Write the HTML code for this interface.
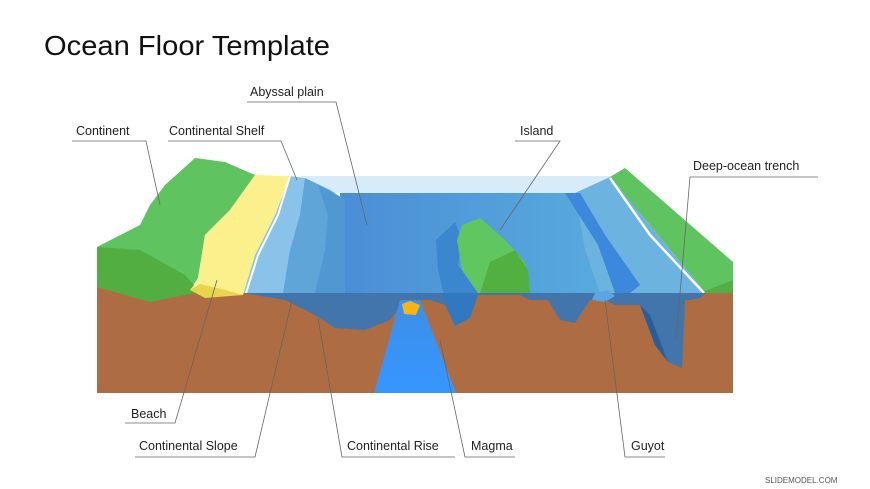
<!DOCTYPE html>
<html><head><meta charset="utf-8"><style>
html,body{margin:0;padding:0;background:#fff}
svg{display:block}
text{font-family:"Liberation Sans",sans-serif;fill:#222}
</style></head><body>
<svg width="870" height="489" viewBox="0 0 870 489" xmlns="http://www.w3.org/2000/svg">
<defs>
<linearGradient id="sea" x1="0" x2="1" y1="0" y2="0"><stop offset="0" stop-color="#4a8ed6"/><stop offset="1" stop-color="#5aaede"/></linearGradient>
<linearGradient id="mag" x1="0" x2="0" y1="0" y2="1"><stop offset="0" stop-color="#3d8fe6"/><stop offset="1" stop-color="#3696ff"/></linearGradient>
</defs>
<text x="44" y="55" font-size="28" textLength="286" lengthAdjust="spacingAndGlyphs" style="fill:#111">Ocean Floor Template</text>
<rect x="97" y="287" width="636" height="106" fill="#ae6c42"/>
<polygon points="300,176 612,176 600,193 330,193" fill="#d7ebf9"/>
<rect x="340" y="193" width="300" height="100" fill="url(#sea)"/>
<polygon points="290,176 305,178 330,190 345,200 345,293 243,293 255,255 275,215" fill="#8ac3ea"/>
<polygon points="305,178 330,190 345,200 345,293 283,293 290,250 300,215" fill="#5fa5d8"/>
<polygon points="318,185 345,200 345,293 315,293 325,250 328,215" fill="#4f98d2"/>
<polygon points="97,247 140,225 150,205 165,185 195,158 225,162 255,175 230,210 205,235 198,278 190,290 150,302 97,287" fill="#5fc35f"/>
<polygon points="97,247 140,250 185,275 200,292 150,302 97,287" fill="#52ae40"/>
<polygon points="255,175 290,176 275,215 255,255 243,295 205,296 190,290 198,280 205,235 230,210" fill="#fcf08c"/>
<polygon points="190,290 200,284 225,290 243,295 205,298" fill="#e8d54a"/>
<polyline points="290,176 278,215 258,255 246,293" fill="none" stroke="#fff" stroke-width="2"/>
<polygon points="436,240 455,222 462,240 458,265 478,293 470,318 455,326 445,300 438,270" fill="#3a86cf"/>
<polygon points="462,225 480,218 505,240 525,262 530,293 478,293 462,270 457,240" fill="#60c760"/>
<polygon points="490,262 515,250 528,270 530,293 480,293" fill="#52b040"/>
<polygon points="575,193 610,177 706,293 600,293 585,250" fill="#6cb3df"/>
<polygon points="565,193 580,193 605,235 640,285 630,293 615,293 598,245" fill="#3b88dd"/>
<polygon points="610,177 625,168 733,262 733,293 706,293" fill="#5fc35f"/>
<polygon points="700,293 733,280 733,293" fill="#52ae40"/>
<polyline points="610,178 650,235 704,293" fill="none" stroke="#fff" stroke-width="2.5"/>
<polygon points="243,293 706,293 700,298 690,300 685,300 682,368 668,362 655,345 640,305 615,305 605,300 590,300 575,323 560,320 548,300 530,300 520,295 478,295 470,318 455,326 445,305 430,300 405,300 390,320 365,330 335,328 315,315 285,300" fill="#2f77bd" opacity="0.85"/>
<polygon points="595,293 608,290 615,296 605,302 592,300" fill="#5aa6e0"/>
<polygon points="640,305 650,315 668,362 655,345" fill="#245f9c"/>
<polygon points="400,300 420,300 456,393 374,393" fill="url(#mag)"/>
<polygon points="402,304 410,301 420,305 416,315 404,314" fill="#f7b515"/>
<g stroke="#666" stroke-width="0.8" fill="none">
<polyline points="72,141 146,141 160,205"/>
<polyline points="168,141 281,141 297,180"/>
<polyline points="247,102 336,102 367,225"/>
<polyline points="515,141 560,141 500,230"/>
<polyline points="818,177 690,177 676,340"/>
<polyline points="125,423 175,423 217,280"/>
<polyline points="135,457 255,457 292,300"/>
<polyline points="455,457 342,457 318,318"/>
<polyline points="515,457 465,457 440,340"/>
<polyline points="665,457 625,457 605,300"/>
</g>
<g font-size="12.5">
<text x="76" y="135">Continent</text>
<text x="169" y="135">Continental Shelf</text>
<text x="250" y="96">Abyssal plain</text>
<text x="520" y="135">Island</text>
<text x="693" y="170">Deep-ocean trench</text>
<text x="131" y="418">Beach</text>
<text x="139" y="450">Continental Slope</text>
<text x="347" y="450">Continental Rise</text>
<text x="471" y="450">Magma</text>
<text x="631" y="450">Guyot</text>
</g>
<text x="765" y="483" font-size="8" style="fill:#555">SLIDEMODEL.COM</text>
</svg>
</body></html>
